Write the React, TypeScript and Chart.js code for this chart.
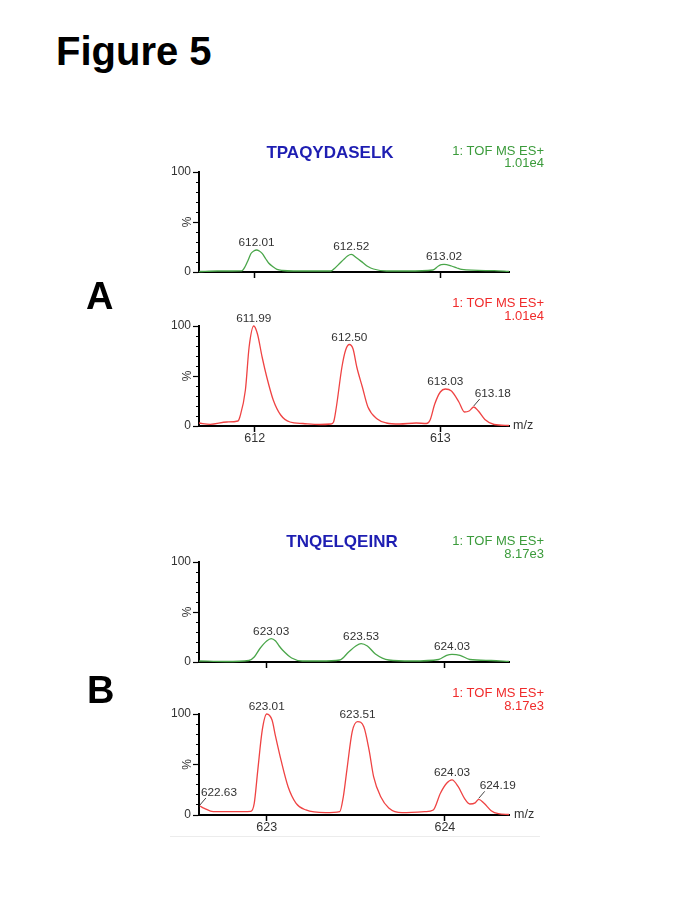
import React, { useEffect, useRef } from 'react';
import { Chart, registerables } from 'chart.js';
Chart.register(...registerables);

const FONT = '"Liberation Sans", Arial, Helvetica, sans-serif';

// ---------- Panel A : TPAQYDASELK ----------
const A_RANGE = [611.70, 613.37];
const A_XTICKS = [612, 613];

const A_LIGHT_MZ = [611.70, 611.80, 611.93, 611.95, 611.965, 611.98, 611.995, 612.01, 612.025, 612.04, 612.06, 612.075, 612.10, 612.12, 612.15, 612.21, 612.41, 612.43, 612.46, 612.48, 612.50, 612.52, 612.55, 612.585, 612.61, 612.64, 612.71, 612.82, 612.96, 612.99, 613.005, 613.02, 613.06, 613.09, 613.115, 613.29, 613.37];
const A_LIGHT_INT = [0.5, 1, 1.2, 6, 12, 18.5, 21, 22, 21, 18.6, 13, 9, 5, 2.6, 1.5, 1, 1, 3.6, 9, 12.6, 16, 17.6, 14, 9, 5.5, 3, 1, 1, 2, 6, 7.3, 7.6, 6, 4, 2.6, 1.3, 0.7];

const A_HEAVY_MZ = [611.70, 611.76, 611.85, 611.91, 611.92, 611.95, 611.97, 611.995, 612.015, 612.04, 612.065, 612.10, 612.14, 612.19, 612.26, 612.35, 612.41, 612.425, 612.44, 612.47, 612.49, 612.51, 612.53, 612.55, 612.58, 612.61, 612.66, 612.71, 612.78, 612.87, 612.925, 612.945, 612.97, 613.00, 613.027, 613.06, 613.10, 613.13, 613.155, 613.18, 613.205, 613.24, 613.29, 613.37];
const A_HEAVY_INT = [3, 1.7, 4, 5, 9, 36, 79, 100, 92, 69, 49, 26, 11, 4, 2.5, 1.5, 2, 4, 19, 59, 76, 81.5, 77, 59, 39, 19, 7, 3, 2, 3, 2.5, 6, 22, 34, 37, 35, 24, 14, 15, 19, 15, 6.5, 1.5, 0.5];

const A_LIGHT_PEAK_MZ = [612.01, 612.52, 613.02];
const A_LIGHT_PEAK_INT = [22, 17.6, 7.6];
const A_LIGHT_PEAK_TEXT = ['612.01', '612.52', '613.02'];

const A_HEAVY_PEAK_MZ = [611.995, 612.51, 613.027, 613.18];
const A_HEAVY_PEAK_INT = [100, 81.5, 37, 19];
const A_HEAVY_PEAK_TEXT = ['611.99', '612.50', '613.03', '613.18'];

// ---------- Panel B : TNQELQEINR ----------
const B_RANGE = [622.62, 624.36];
const B_XTICKS = [623, 624];

const B_LIGHT_MZ = [622.62, 622.77, 622.90, 622.93, 622.96, 623.00, 623.025, 623.05, 623.07, 623.09, 623.14, 623.20, 623.30, 623.41, 623.46, 623.50, 623.53, 623.565, 623.61, 623.685, 623.815, 623.965, 624.01, 624.04, 624.085, 624.14, 624.26, 624.36];
const B_LIGHT_INT = [1, 0.5, 1.5, 5, 13, 21, 23.4, 21, 16, 11.7, 4, 1, 1, 2, 10, 16, 18.4, 16, 8, 2, 1, 2.5, 6.7, 7.7, 6.7, 2.5, 1.5, 0.6];

const B_HEAVY_MZ = [622.625, 622.65, 622.70, 622.81, 622.91, 622.93, 622.95, 622.975, 623.00, 623.03, 623.05, 623.08, 623.12, 623.165, 623.22, 623.33, 623.41, 623.43, 623.45, 623.48, 623.51, 623.545, 623.575, 623.60, 623.64, 623.685, 623.76, 623.89, 623.935, 623.975, 624.01, 624.04, 624.075, 624.11, 624.14, 624.17, 624.19, 624.22, 624.26, 624.30, 624.36];
const B_HEAVY_INT = [8.9, 6.6, 3.3, 3.3, 3.6, 11.6, 44.5, 84, 100, 94, 77.5, 54.5, 28, 11.6, 5, 2.3, 3.3, 18, 44.5, 82.5, 92.4, 87.4, 64, 38, 18, 7, 2.3, 3.3, 5, 21.5, 31.4, 34.7, 28, 16.5, 10.9, 12, 15.5, 11.6, 4.3, 1.3, 0.5];

const B_LIGHT_PEAK_MZ = [623.025, 623.53, 624.04];
const B_LIGHT_PEAK_INT = [23.4, 18.4, 7.7];
const B_LIGHT_PEAK_TEXT = ['623.03', '623.53', '624.03'];

const B_HEAVY_PEAK_MZ = [622.625, 623.00, 623.51, 624.04, 624.19];
const B_HEAVY_PEAK_INT = [8.9, 100, 92.4, 34.7, 15.5];
const B_HEAVY_PEAK_TEXT = ['622.63', '623.01', '623.51', '624.03', '624.19'];

// labels attached to their peak with a short leader line
const LEADER_LABELS = ['613.18', '622.63', '624.19'];

const Y_MAJOR = [0, 50, 100];
const Y_MINOR = [10, 20, 30, 40, 60, 70, 80, 90];

const GREEN_LINE = '#4aa64a';
const RED_LINE = '#ef4343';
const GREEN_TEXT = '#3b9b3b';
const RED_TEXT = '#f02b2b';
const TITLE_BLUE = '#1e1eb2';

type SpecProps = {
  top: number; height: number; mz: number[]; intensity: number[]; color: string;
  range: number[]; xTicks: number[]; showXLabels: boolean;
  peakMz: number[]; peakInt: number[]; peakText: string[];
};

function Spectrum(p: SpecProps) {
  const ref = useRef<HTMLCanvasElement>(null);
  useEffect(() => {
    const peakPlugin = {
      id: 'peakLabels',
      afterDatasetsDraw(chart: any) {
        const { ctx, chartArea } = chart;
        const xs = chart.scales.x, ys = chart.scales.y;
        ctx.save();
        ctx.font = `11.8px ${FONT}`;
        ctx.fillStyle = '#333';
        ctx.strokeStyle = '#444';
        ctx.lineWidth = 1;
        ctx.textBaseline = 'alphabetic';
        p.peakMz.forEach((m, i) => {
          const px = xs.getPixelForValue(m);
          const py = ys.getPixelForValue(p.peakInt[i]);
          const t = p.peakText[i];
          if (LEADER_LABELS.includes(t)) {
            ctx.beginPath();
            ctx.moveTo(px, py - 1);
            ctx.lineTo(px + 6, py - 8);
            ctx.stroke();
            ctx.textAlign = 'left';
            ctx.fillText(t, px + 1, py - 10);
          } else {
            ctx.textAlign = 'center';
            ctx.fillText(t, px, py - 4);
          }
        });
        const yc = ys.getPixelForValue(50);
        ctx.translate(chartArea.left - 11, yc);
        ctx.rotate(-Math.PI / 2);
        ctx.textAlign = 'center';
        ctx.textBaseline = 'middle';
        ctx.font = `12px ${FONT}`;
        ctx.fillText('%', 0, 0);
        ctx.restore();
      },
    };
    const chart = new Chart(ref.current!, {
      type: 'line',
      data: {
        datasets: [{
          data: p.mz.map((x, i) => ({ x, y: p.intensity[i] })),
          borderColor: p.color,
          borderWidth: 1.3,
          pointRadius: 0,
          cubicInterpolationMode: 'monotone',
          fill: false,
          clip: false as any,
        }],
      },
      options: {
        animation: false,
        responsive: false,
        maintainAspectRatio: false,
        layout: { padding: { left: 0, right: 40, top: 30, bottom: 0 } },
        plugins: { legend: { display: false }, tooltip: { enabled: false } },
        scales: {
          x: {
            type: 'linear',
            min: p.range[0],
            max: p.range[1],
            afterBuildTicks: (s: any) => { s.ticks = p.xTicks.map((v) => ({ value: v })); },
            afterFit: (s: any) => { s.height = 25; },
            grid: { drawOnChartArea: false, drawTicks: true, tickLength: 6, tickColor: '#000', tickWidth: 1.5 },
            border: { display: true, color: '#000', width: 2 },
            ticks: {
              autoSkip: false, maxRotation: 0, padding: -1, color: '#333',
              font: { family: FONT, size: 12.5 },
              callback: (v: any) => (p.showXLabels ? String(v) : ''),
            },
          },
          y: {
            type: 'linear',
            position: 'left',
            weight: 1,
            min: 0,
            max: 100,
            afterBuildTicks: (s: any) => { s.ticks = Y_MAJOR.map((v) => ({ value: v })); },
            afterFit: (s: any) => { s.width = 40; },
            grid: { drawOnChartArea: false, drawTicks: true, tickLength: 6, tickColor: '#000', tickWidth: 1.2 },
            border: { display: true, color: '#000', width: 2 },
            ticks: {
              padding: 2, color: '#333', font: { family: FONT, size: 12 },
              callback: (v: any) => (v === 0 ? '0' : v === 100 ? '100' : ''),
            },
          },
          yMinor: {
            type: 'linear',
            axis: 'y',
            position: 'left',
            weight: 0,
            min: 0,
            max: 100,
            afterBuildTicks: (s: any) => { s.ticks = Y_MINOR.map((v) => ({ value: v })); },
            afterFit: (s: any) => { s.width = 0; },
            grid: { drawOnChartArea: false, drawTicks: true, tickLength: 3, tickColor: '#000', tickWidth: 1 },
            border: { display: false },
            ticks: { display: false },
          },
        } as any,
      },
      plugins: [peakPlugin],
    });
    return () => chart.destroy();
  }, []);
  return (
    <canvas
      ref={ref}
      width={390}
      height={p.height}
      style={{ position: 'absolute', left: 159, top: p.top, width: 390, height: p.height }}
    />
  );
}

type LabelProps = { x: number; baseline: number; size: number; text: string; color?: string; bold?: boolean; align?: 'left' | 'right' | 'center' };
function Label({ x, baseline, size, text, color = '#000', bold = false, align = 'left' }: LabelProps) {
  const w = 400;
  const left = align === 'left' ? x : align === 'right' ? x - w : x - w / 2;
  return (
    <div
      style={{
        position: 'absolute', left, top: baseline - 0.8465 * size, width: w, textAlign: align,
        fontSize: size, lineHeight: `${size}px`, fontFamily: FONT, fontWeight: bold ? 700 : 400,
        color, whiteSpace: 'nowrap',
      }}
    >
      {text}
    </div>
  );
}

export default function App() {
  return (
    <div style={{ position: 'absolute', left: 0, top: 0, width: 685, height: 913, background: '#fff', overflow: 'hidden' }}>
      <Spectrum top={142} height={155} mz={A_LIGHT_MZ} intensity={A_LIGHT_INT} color={GREEN_LINE} range={A_RANGE} xTicks={A_XTICKS} showXLabels={false} peakMz={A_LIGHT_PEAK_MZ} peakInt={A_LIGHT_PEAK_INT} peakText={A_LIGHT_PEAK_TEXT} />
      <Spectrum top={296} height={155} mz={A_HEAVY_MZ} intensity={A_HEAVY_INT} color={RED_LINE} range={A_RANGE} xTicks={A_XTICKS} showXLabels={true} peakMz={A_HEAVY_PEAK_MZ} peakInt={A_HEAVY_PEAK_INT} peakText={A_HEAVY_PEAK_TEXT} />
      <Spectrum top={532} height={155} mz={B_LIGHT_MZ} intensity={B_LIGHT_INT} color={GREEN_LINE} range={B_RANGE} xTicks={B_XTICKS} showXLabels={false} peakMz={B_LIGHT_PEAK_MZ} peakInt={B_LIGHT_PEAK_INT} peakText={B_LIGHT_PEAK_TEXT} />
      <Spectrum top={684} height={156} mz={B_HEAVY_MZ} intensity={B_HEAVY_INT} color={RED_LINE} range={B_RANGE} xTicks={B_XTICKS} showXLabels={true} peakMz={B_HEAVY_PEAK_MZ} peakInt={B_HEAVY_PEAK_INT} peakText={B_HEAVY_PEAK_TEXT} />

      <Label x={56} baseline={65} size={40} bold text="Figure 5" />
      <Label x={86} baseline={309} size={38} bold text="A" />
      <Label x={87} baseline={703} size={38} bold text="B" />

      <Label x={330} baseline={158} size={17} bold color={TITLE_BLUE} align="center" text="TPAQYDASELK" />
      <Label x={544} baseline={155.5} size={13} color={GREEN_TEXT} align="right" text="1: TOF MS ES+" />
      <Label x={544} baseline={167.5} size={13} color={GREEN_TEXT} align="right" text="1.01e4" />

      <Label x={544} baseline={307} size={13} color={RED_TEXT} align="right" text="1: TOF MS ES+" />
      <Label x={544} baseline={320} size={13} color={RED_TEXT} align="right" text="1.01e4" />
      <Label x={513} baseline={430} size={12.5} color="#333" text="m/z" />

      <Label x={342} baseline={547} size={17} bold color={TITLE_BLUE} align="center" text="TNQELQEINR" />
      <Label x={544} baseline={545} size={13} color={GREEN_TEXT} align="right" text="1: TOF MS ES+" />
      <Label x={544} baseline={558} size={13} color={GREEN_TEXT} align="right" text="8.17e3" />

      <Label x={544} baseline={697} size={13} color={RED_TEXT} align="right" text="1: TOF MS ES+" />
      <Label x={544} baseline={710.5} size={13} color={RED_TEXT} align="right" text="8.17e3" />
      <Label x={514} baseline={819} size={12.5} color="#333" text="m/z" />

      <div style={{ position: 'absolute', left: 170, top: 836, width: 370, height: 1, background: '#ececec' }} />
    </div>
  );
}
